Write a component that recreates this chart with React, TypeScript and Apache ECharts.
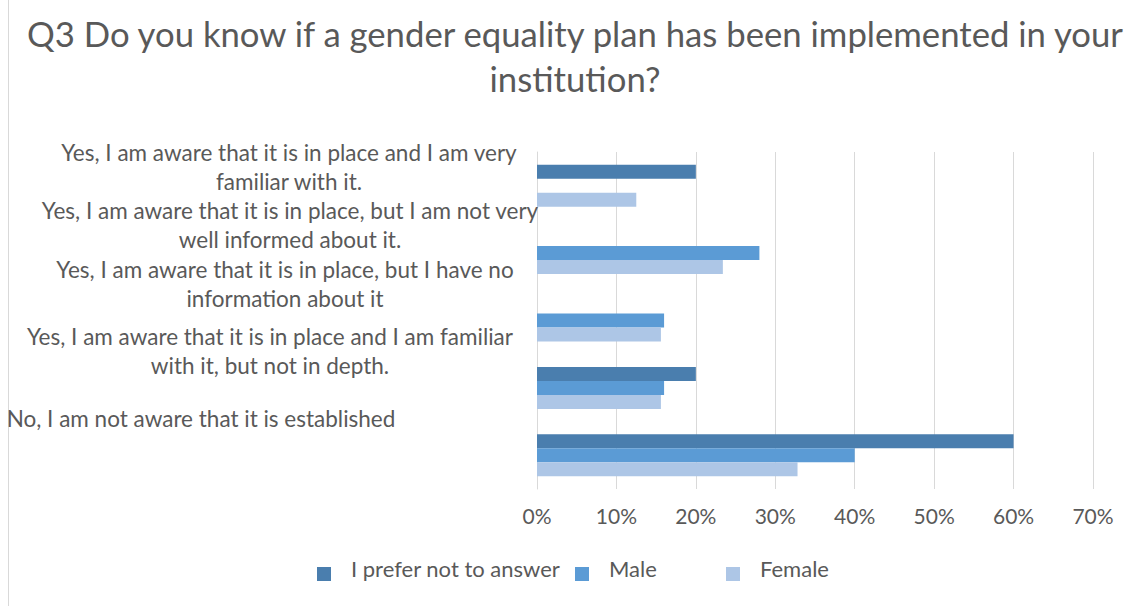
import React, { useEffect, useRef } from 'react';
import * as echarts from 'echarts';

const titleText = 'Q3 Do you know if a gender equality plan has been implemented in your\ninstitution?';

const categories = [
  'Yes, I am aware that it is in place and I am very\nfamiliar with it.',
  'Yes, I am aware that it is in place, but I am not very\nwell informed about it.',
  'Yes, I am aware that it is in place, but I have no\ninformation about it',
  'Yes, I am aware that it is in place and I am familiar\nwith it, but not in depth.',
  'No, I am not aware that it is established',
];

const seriesNames = ['I prefer not to answer', 'Male', 'Female'];
const preferNot = [20, 0, 0, 20, 60];
const male = [0, 28, 16, 16, 40];
const female = [12.5, 23.4, 15.6, 15.6, 32.8];

const xMin = 0;
const xMax = 70;
const xInterval = 10;

const colors = ['#4a7eae', '#5b9bd5', '#adc6e6'];
// horizontal offsets (right padding) and upward shift spacers per label
const labelRightPads = [2, 0, 10, 40, 178];
const labelSpacers = [38, 56, 74, 74, 74];

export default function App() {
  const ref = useRef<HTMLDivElement>(null);
  useEffect(() => {
    if (!ref.current) return;
    const chart = echarts.init(ref.current, undefined, { renderer: 'svg' });
    const font = 'Lato';
    const legendLefts = [312, 570, 721];
    const rich: Record<string, any> = {};
    labelSpacers.forEach((h, i) => {
      rich['s' + i] = { lineHeight: h, height: h, fontSize: 10 };
    });
    chart.setOption({
      animation: false,
      backgroundColor: '#ffffff',
      textStyle: { fontFamily: font },
      title: {
        text: titleText,
        left: 570,
        top: 6,
        textAlign: 'center',
        textStyle: { fontFamily: font, fontSize: 34.7, fontWeight: 'normal', color: '#595959', lineHeight: 45 },
      },
      graphic: [
        { type: 'line', shape: { x1: 8.5, y1: 0, x2: 8.5, y2: 606 }, style: { stroke: '#d9d9d9', lineWidth: 1 } },
      ],
      legend: seriesNames.map((n, i) => ({
        data: [n],
        left: legendLefts[i],
        top: 552,
        icon: 'rect',
        itemWidth: 14,
        itemHeight: 14,
        selectedMode: false,
        formatter: (name: string) => `{t|${name}}\n{sp| }`,
        textStyle: {
          fontFamily: font,
          fontSize: 22,
          color: '#595959',
          padding: [0, 0, 0, 15],
          rich: {
            t: { fontFamily: font, fontSize: 22, color: '#595959', lineHeight: 26 },
            sp: { lineHeight: 12, height: 12, fontSize: 10 },
          },
        },
      })),
      grid: { left: 537, right: 39, top: 152, bottom: 117, containLabel: false, outerBoundsMode: 'none' },
      xAxis: {
        type: 'value',
        min: xMin,
        max: xMax,
        interval: xInterval,
        axisLine: { show: false },
        axisTick: { show: false },
        splitLine: { show: true, lineStyle: { color: '#d9d9d9', width: 1 } },
        axisLabel: {
          formatter: (v: number) => `${v}%`,
          fontFamily: font,
          fontSize: 21,
          color: '#595959',
          margin: 16,
        },
      },
      yAxis: {
        type: 'category',
        inverse: true,
        data: categories.map((c, i) => ({
          value: c,
          textStyle: {
            padding: [0, labelRightPads[i], 0, 0],
            align: 'center',
            verticalAlign: 'middle',
            fontFamily: font,
            fontSize: 22.5,
            lineHeight: 29,
            color: '#595959',
          },
        })),
        axisLine: { show: true, lineStyle: { color: '#d9d9d9', width: 1 } },
        axisTick: { show: false },
        axisLabel: {
          interval: 0,
          align: 'center',
          margin: 247,
          fontFamily: font,
          fontSize: 22.5,
          lineHeight: 29,
          color: '#595959',
          formatter: (value: string, index: number) => `${value}\n{s${index}| }`,
          rich,
        },
      },
      series: [preferNot, male, female].map((d, i) => ({
        name: seriesNames[i],
        type: 'bar',
        data: d,
        barWidth: 14,
        barGap: '0%',
        itemStyle: { color: colors[i] },
      })),
    });
    return () => chart.dispose();
  }, []);
  return <div ref={ref} style={{ position: 'absolute', left: 0, top: 0, width: 1132, height: 606 }} />;
}
